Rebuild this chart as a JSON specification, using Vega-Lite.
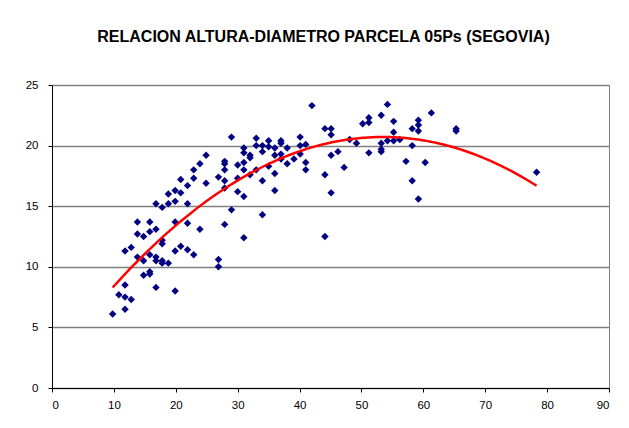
{
  "$schema": "https://vega.github.io/schema/vega-lite/v6.json",
  "width": 557,
  "height": 303,
  "autosize": "none",
  "padding": {"left": 52, "top": 85, "right": 20, "bottom": 40},
  "background": "white",
  "title": {
    "text": "RELACION ALTURA-DIAMETRO PARCELA 05Ps (SEGOVIA)",
    "font": "Liberation Sans",
    "fontSize": 16,
    "fontWeight": "bold",
    "color": "black",
    "anchor": "middle",
    "dx": -7,
    "offset": 34
  },
  "config": {
    "view": {"stroke": "#808080", "strokeWidth": 1},
    "axis": {
      "labelFont": "Liberation Sans",
      "labelFontSize": 11.5,
      "labelColor": "black",
      "domainColor": "black",
      "domainWidth": 1,
      "tickColor": "black",
      "tickSize": 4,
      "title": null
    }
  },
  "data": {
    "values": [
      {"diametro": 9.8, "altura": 6.1},
      {"diametro": 10.8, "altura": 7.7},
      {"diametro": 11.8, "altura": 7.5},
      {"diametro": 11.8, "altura": 8.5},
      {"diametro": 11.8, "altura": 6.5},
      {"diametro": 12.8, "altura": 7.3},
      {"diametro": 11.8, "altura": 11.3},
      {"diametro": 12.8, "altura": 11.6},
      {"diametro": 13.8, "altura": 13.7},
      {"diametro": 13.8, "altura": 12.7},
      {"diametro": 13.8, "altura": 10.8},
      {"diametro": 14.8, "altura": 12.5},
      {"diametro": 14.8, "altura": 10.5},
      {"diametro": 14.8, "altura": 9.3},
      {"diametro": 15.8, "altura": 13.7},
      {"diametro": 15.8, "altura": 12.9},
      {"diametro": 15.8, "altura": 11.0},
      {"diametro": 15.8, "altura": 9.6},
      {"diametro": 15.8, "altura": 9.4},
      {"diametro": 16.8, "altura": 13.1},
      {"diametro": 16.8, "altura": 10.8},
      {"diametro": 16.8, "altura": 10.5},
      {"diametro": 16.8, "altura": 8.3},
      {"diametro": 16.8, "altura": 15.2},
      {"diametro": 17.8, "altura": 12.2},
      {"diametro": 17.8, "altura": 11.9},
      {"diametro": 17.8, "altura": 10.5},
      {"diametro": 17.8, "altura": 10.3},
      {"diametro": 17.8, "altura": 14.9},
      {"diametro": 18.8, "altura": 10.3},
      {"diametro": 18.8, "altura": 15.2},
      {"diametro": 18.8, "altura": 16.0},
      {"diametro": 19.9, "altura": 16.3},
      {"diametro": 19.9, "altura": 15.4},
      {"diametro": 19.9, "altura": 13.7},
      {"diametro": 19.9, "altura": 11.3},
      {"diametro": 19.9, "altura": 8.0},
      {"diametro": 20.8, "altura": 17.2},
      {"diametro": 20.8, "altura": 16.1},
      {"diametro": 20.8, "altura": 11.7},
      {"diametro": 21.9, "altura": 16.7},
      {"diametro": 21.9, "altura": 15.2},
      {"diametro": 21.9, "altura": 13.6},
      {"diametro": 21.9, "altura": 11.4},
      {"diametro": 22.9, "altura": 18.0},
      {"diametro": 22.9, "altura": 17.3},
      {"diametro": 22.9, "altura": 11.0},
      {"diametro": 23.9, "altura": 18.5},
      {"diametro": 23.9, "altura": 13.1},
      {"diametro": 24.9, "altura": 19.2},
      {"diametro": 24.9, "altura": 16.9},
      {"diametro": 26.9, "altura": 17.4},
      {"diametro": 26.9, "altura": 10.6},
      {"diametro": 26.9, "altura": 10.0},
      {"diametro": 27.9, "altura": 18.7},
      {"diametro": 27.9, "altura": 18.5},
      {"diametro": 27.9, "altura": 18.0},
      {"diametro": 27.9, "altura": 17.1},
      {"diametro": 27.9, "altura": 16.5},
      {"diametro": 27.9, "altura": 13.5},
      {"diametro": 29.0, "altura": 20.7},
      {"diametro": 29.0, "altura": 14.7},
      {"diametro": 30.0, "altura": 18.4},
      {"diametro": 30.0, "altura": 17.3},
      {"diametro": 30.0, "altura": 16.2},
      {"diametro": 31.0, "altura": 19.8},
      {"diametro": 31.0, "altura": 19.4},
      {"diametro": 31.0, "altura": 18.6},
      {"diametro": 31.0, "altura": 18.0},
      {"diametro": 31.0, "altura": 15.8},
      {"diametro": 31.0, "altura": 12.4},
      {"diametro": 32.0, "altura": 19.2},
      {"diametro": 32.0, "altura": 19.0},
      {"diametro": 32.0, "altura": 17.6},
      {"diametro": 33.0, "altura": 20.6},
      {"diametro": 33.0, "altura": 20.0},
      {"diametro": 33.0, "altura": 18.0},
      {"diametro": 34.0, "altura": 20.0},
      {"diametro": 34.0, "altura": 19.5},
      {"diametro": 34.0, "altura": 17.1},
      {"diametro": 34.0, "altura": 14.3},
      {"diametro": 35.0, "altura": 20.4},
      {"diametro": 35.0, "altura": 19.9},
      {"diametro": 35.0, "altura": 18.3},
      {"diametro": 36.0, "altura": 19.8},
      {"diametro": 36.0, "altura": 19.2},
      {"diametro": 36.0, "altura": 17.7},
      {"diametro": 36.0, "altura": 16.3},
      {"diametro": 37.0, "altura": 20.4},
      {"diametro": 37.0, "altura": 20.2},
      {"diametro": 37.0, "altura": 19.3},
      {"diametro": 37.0, "altura": 18.9},
      {"diametro": 38.0, "altura": 19.8},
      {"diametro": 38.0, "altura": 18.5},
      {"diametro": 39.1, "altura": 18.9},
      {"diametro": 40.1, "altura": 20.7},
      {"diametro": 40.1, "altura": 20.0},
      {"diametro": 40.1, "altura": 19.3},
      {"diametro": 41.0, "altura": 20.1},
      {"diametro": 41.0, "altura": 18.6},
      {"diametro": 41.0, "altura": 18.0},
      {"diametro": 42.0, "altura": 23.3},
      {"diametro": 44.1, "altura": 21.4},
      {"diametro": 44.1, "altura": 17.6},
      {"diametro": 44.1, "altura": 12.5},
      {"diametro": 45.1, "altura": 21.4},
      {"diametro": 45.1, "altura": 20.9},
      {"diametro": 45.1, "altura": 19.2},
      {"diametro": 45.1, "altura": 16.1},
      {"diametro": 46.2, "altura": 19.5},
      {"diametro": 47.2, "altura": 18.2},
      {"diametro": 48.1, "altura": 20.5},
      {"diametro": 49.2, "altura": 20.2},
      {"diametro": 50.2, "altura": 21.8},
      {"diametro": 51.2, "altura": 22.3},
      {"diametro": 51.2, "altura": 21.9},
      {"diametro": 51.2, "altura": 19.4},
      {"diametro": 53.2, "altura": 22.5},
      {"diametro": 53.2, "altura": 20.2},
      {"diametro": 53.2, "altura": 19.7},
      {"diametro": 53.2, "altura": 19.5},
      {"diametro": 54.2, "altura": 23.4},
      {"diametro": 54.2, "altura": 20.4},
      {"diametro": 55.2, "altura": 22.0},
      {"diametro": 55.2, "altura": 21.1},
      {"diametro": 55.2, "altura": 20.4},
      {"diametro": 56.2, "altura": 20.5},
      {"diametro": 57.2, "altura": 18.7},
      {"diametro": 58.2, "altura": 21.4},
      {"diametro": 58.2, "altura": 20.0},
      {"diametro": 58.2, "altura": 17.1},
      {"diametro": 59.2, "altura": 22.1},
      {"diametro": 59.2, "altura": 21.7},
      {"diametro": 59.2, "altura": 21.2},
      {"diametro": 59.2, "altura": 15.6},
      {"diametro": 60.3, "altura": 18.6},
      {"diametro": 61.3, "altura": 22.7},
      {"diametro": 65.3, "altura": 21.4},
      {"diametro": 65.3, "altura": 21.2},
      {"diametro": 78.3, "altura": 17.8}
    ]
  },
  "encoding": {
    "x": {
      "field": "diametro",
      "type": "quantitative",
      "scale": {"domain": [0, 90], "nice": false},
      "axis": {
        "values": [0, 10, 20, 30, 40, 50, 60, 70, 80, 90],
        "grid": false,
        "labelPadding": 7
      }
    },
    "y": {
      "field": "altura",
      "type": "quantitative",
      "scale": {"domain": [0, 25], "nice": false},
      "axis": {
        "values": [0, 5, 10, 15, 20, 25],
        "grid": true,
        "gridColor": "#808080",
        "gridWidth": 1.5,
        "labelPadding": 10
      }
    }
  },
  "layer": [
    {
      "mark": {
        "type": "point",
        "shape": "diamond",
        "filled": true,
        "size": 55,
        "color": "#000080",
        "opacity": 1
      }
    },
    {
      "transform": [
        {"regression": "altura", "on": "diametro", "method": "poly", "order": 2}
      ],
      "mark": {"type": "line", "color": "#ff0000", "strokeWidth": 2.5}
    }
  ]
}
